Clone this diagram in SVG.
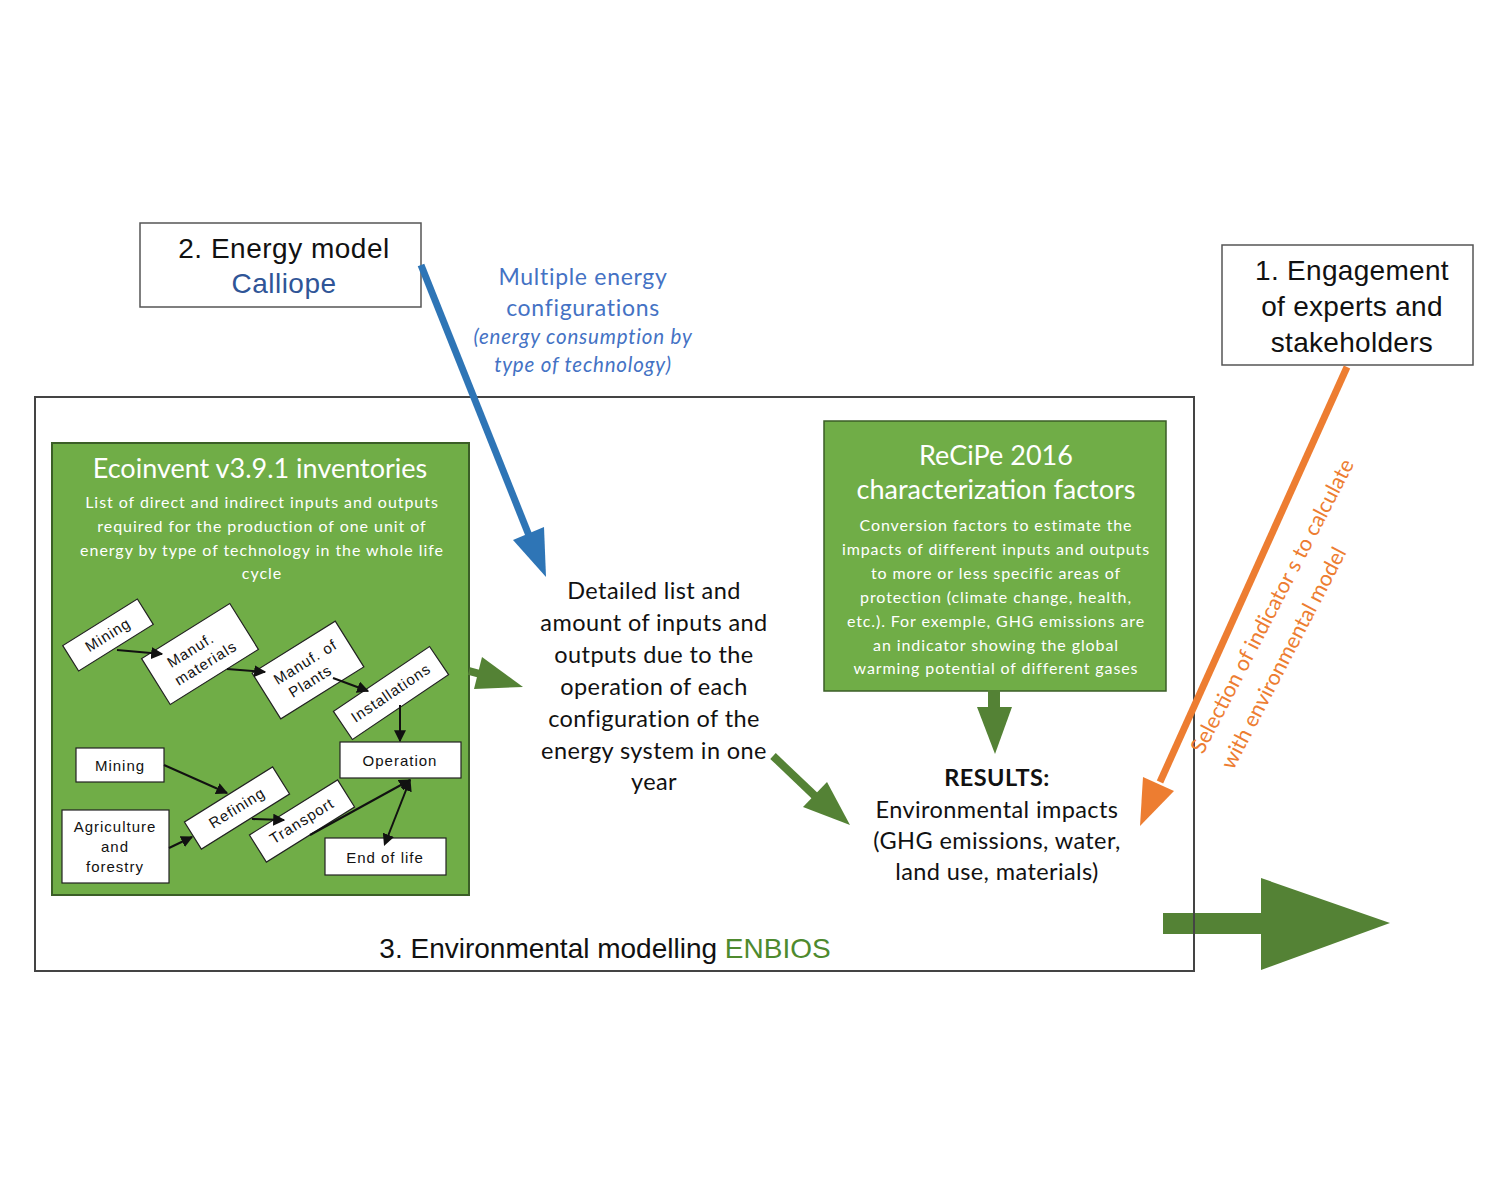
<svg xmlns="http://www.w3.org/2000/svg" width="1500" height="1200" viewBox="0 0 1500 1200">
<style>
.box{fill:#fff;stroke:#555;stroke-width:1.5}
.frame{fill:none;stroke:#444;stroke-width:2}
.gbox{fill:#70AD47;stroke:#3b5e27;stroke-width:2}
.wbox{fill:#fff;stroke:#222;stroke-width:1.2}
.sans{font-family:"Liberation Sans",Arial,sans-serif}
.cal{font-family:Lato,"Open Sans",sans-serif}
.big{font-size:28px;fill:#111}
.wt{fill:#fff}
.fc{font-family:"Liberation Sans",Arial,sans-serif;font-size:15px;fill:#111;letter-spacing:1px}
.mid{font-family:Lato,"Open Sans",sans-serif;font-size:23.5px;fill:#111;letter-spacing:0.4px}
.conn{stroke:#111;stroke-width:2;fill:none}
</style>
<defs>
<marker id="ah" viewBox="0 0 10 10" refX="9" refY="5" markerWidth="12" markerHeight="12" markerUnits="userSpaceOnUse" orient="auto">
<path d="M0,0 L10,5 L0,10 z" fill="#111"/>
</marker>
<marker id="ahs" viewBox="0 0 10 10" refX="1" refY="5" markerWidth="12" markerHeight="12" markerUnits="userSpaceOnUse" orient="auto-start-reverse">
<path d="M0,0 L10,5 L0,10 z" fill="#111"/>
</marker>
</defs>
<rect width="1500" height="1200" fill="#fff"/>

<g id="output-arrow">
<rect x="1163" y="913" width="100" height="21" fill="#548235"/>
<polygon points="1261,878 1261,970 1390,923" fill="#548235"/>
</g>

<g id="environmental-modelling">
<rect class="frame" x="35" y="397" width="1159" height="574"/>
<text class="sans big" x="605" y="958" text-anchor="middle" font-size="28.5">3. Environmental modelling <tspan fill="#4E8A2E">ENBIOS</tspan></text>
</g>

<g id="energy-model">
<rect class="box" x="140" y="223" width="281" height="84"/>
<text class="sans big" x="284" y="258" text-anchor="middle" letter-spacing="0.5">2. Energy model</text>
<text class="sans big" x="284" y="293" text-anchor="middle" style="fill:#2F5597" letter-spacing="0.5">Calliope</text>
</g>

<g id="engagement">
<rect class="box" x="1222" y="245" width="251" height="120"/>
<text class="sans big" x="1352" y="280" text-anchor="middle" letter-spacing="0.3">1. Engagement</text>
<text class="sans big" x="1352" y="316" text-anchor="middle" letter-spacing="0.3">of experts and</text>
<text class="sans big" x="1352" y="352" text-anchor="middle" letter-spacing="0.3">stakeholders</text>
</g>

<g id="ecoinvent">
<rect class="gbox" x="52" y="443" width="417" height="452"/>
<text class="cal wt" x="260" y="478" text-anchor="middle" font-size="27">Ecoinvent v3.9.1 inventories</text>
<g class="cal wt" font-size="16" text-anchor="middle" letter-spacing="0.95">
<text x="262" y="508">List of direct and indirect inputs and outputs</text>
<text x="262" y="532">required for the production of one unit of</text>
<text x="262" y="556">energy by type of technology in the whole life</text>
<text x="262" y="579">cycle</text>
</g>
</g>

<g id="mining-1" transform="translate(108,635) rotate(-32)">
<rect class="wbox" x="-44" y="-15" width="88" height="30"/>
<text class="fc" x="0" y="5" text-anchor="middle">Mining</text>
</g>
<g id="manuf-materials" transform="translate(200,654) rotate(-32)">
<rect class="wbox" x="-52" y="-27" width="104" height="54"/>
<text class="fc" x="-6" y="-3" text-anchor="middle">Manuf.</text>
<text class="fc" x="0" y="16" text-anchor="middle">materials</text>
</g>
<g id="manuf-plants" transform="translate(308,670) rotate(-32)">
<rect class="wbox" x="-49" y="-27" width="98" height="54"/>
<text class="fc" x="2" y="-3" text-anchor="middle">Manuf. of</text>
<text class="fc" x="-4" y="16" text-anchor="middle">Plants</text>
</g>
<g id="installations" transform="translate(391,693) rotate(-34)">
<rect class="wbox" x="-58" y="-17" width="116" height="34"/>
<text class="fc" x="0" y="5" text-anchor="middle">Installations</text>
</g>
<g id="operation">
<rect class="wbox" x="340" y="742" width="121" height="36"/>
<text class="fc" x="400" y="766" text-anchor="middle" font-size="18" letter-spacing="1.6">Operation</text>
</g>
<g id="mining-2">
<rect class="wbox" x="76" y="748" width="88" height="34"/>
<text class="fc" x="120" y="771" text-anchor="middle">Mining</text>
</g>
<g id="agriculture">
<rect class="wbox" x="62" y="810" width="107" height="73"/>
<text class="fc" x="115" y="832" text-anchor="middle" font-size="13.5" letter-spacing="0.8">Agriculture</text>
<text class="fc" x="115" y="852" text-anchor="middle" font-size="13.5" letter-spacing="0.8">and</text>
<text class="fc" x="115" y="872" text-anchor="middle" font-size="13.5" letter-spacing="0.8">forestry</text>
</g>
<g id="refining" transform="translate(237,808) rotate(-32)">
<rect class="wbox" x="-52" y="-16" width="104" height="32"/>
<text class="fc" x="0" y="5" text-anchor="middle">Refining</text>
</g>
<g id="transport" transform="translate(302,821) rotate(-32)">
<rect class="wbox" x="-52" y="-16" width="104" height="32"/>
<text class="fc" x="0" y="5" text-anchor="middle">Transport</text>
</g>
<g id="end-of-life">
<rect class="wbox" x="325" y="838" width="121" height="37"/>
<text class="fc" x="385" y="863" text-anchor="middle" font-size="18" letter-spacing="1.6">End of life</text>
</g>

<g id="recipe">
<rect class="gbox" x="824" y="421" width="342" height="270" style="stroke-width:1.5"/>
<text class="cal wt" x="996" y="465" text-anchor="middle" font-size="27">ReCiPe 2016</text>
<text class="cal wt" x="996" y="499" text-anchor="middle" font-size="27">characterization factors</text>
<g class="cal wt" font-size="16" text-anchor="middle" letter-spacing="0.9">
<text x="996" y="531">Conversion factors to estimate the</text>
<text x="996" y="555">impacts of different inputs and outputs</text>
<text x="996" y="579">to more or less specific areas of</text>
<text x="996" y="603">protection (climate change, health,</text>
<text x="996" y="627">etc.). For exemple, GHG emissions are</text>
<text x="996" y="651">an indicator showing the global</text>
<text x="996" y="674">warming potential of different gases</text>
</g>
</g>

<g id="inventory-output">
<text class="mid" x="654" y="599" text-anchor="middle">Detailed list and</text>
<text class="mid" x="654" y="631" text-anchor="middle">amount of inputs and</text>
<text class="mid" x="654" y="663" text-anchor="middle">outputs due to the</text>
<text class="mid" x="654" y="695" text-anchor="middle">operation of each</text>
<text class="mid" x="654" y="727" text-anchor="middle">configuration of the</text>
<text class="mid" x="654" y="759" text-anchor="middle">energy system in one</text>
<text class="mid" x="654" y="790" text-anchor="middle">year</text>
</g>

<g id="results">
<text class="mid" x="997" y="786" text-anchor="middle" style="font-weight:bold">RESULTS:</text>
<text class="mid" x="997" y="818" text-anchor="middle">Environmental impacts</text>
<text class="mid" x="997" y="849" text-anchor="middle">(GHG emissions, water,</text>
<text class="mid" x="997" y="880" text-anchor="middle">land use, materials)</text>
</g>

<g id="connectors">
<line class="conn" x1="117" y1="650" x2="162" y2="654" marker-end="url(#ah)"/>
<line class="conn" x1="227" y1="669" x2="265" y2="672" marker-end="url(#ah)"/>
<line class="conn" x1="333" y1="678" x2="368" y2="691" marker-end="url(#ah)"/>
<line class="conn" x1="400" y1="705" x2="400" y2="741" marker-end="url(#ah)"/>
<line class="conn" x1="164" y1="765" x2="227" y2="793" marker-end="url(#ah)"/>
<line class="conn" x1="169" y1="848" x2="192" y2="837" marker-end="url(#ah)"/>
<line class="conn" x1="252" y1="819" x2="284" y2="820" marker-end="url(#ah)"/>
<line class="conn" x1="310" y1="835" x2="410" y2="780" marker-end="url(#ah)"/>
<line class="conn" x1="388" y1="836" x2="410" y2="780" marker-start="url(#ahs)" marker-end="url(#ah)"/>

<line x1="421" y1="265" x2="530" y2="538" stroke="#2E75B6" stroke-width="7"/>
<polygon points="513,540 544,527 546,577" fill="#2E75B6"/>
<line x1="1347" y1="367" x2="1160" y2="782" stroke="#ED7D31" stroke-width="7"/>
<polygon points="1174,791 1143,777 1140,826" fill="#ED7D31"/>
<line x1="469" y1="671" x2="480" y2="674" stroke="#548235" stroke-width="8"/>
<polygon points="482,657 523,687 474,689" fill="#548235"/>
<line x1="773" y1="756" x2="815" y2="796" stroke="#548235" stroke-width="8"/>
<polygon points="827,782 850,825 803,807" fill="#548235"/>
<rect x="988" y="690" width="12" height="18" fill="#548235"/>
<polygon points="977,707 1012,707 995,754" fill="#548235"/>
</g>

<g id="labels">
<g class="cal" fill="#4472C4" text-anchor="middle">
<text x="583" y="285" font-size="23" letter-spacing="0.7">Multiple energy</text>
<text x="583" y="316" font-size="23" letter-spacing="0.7">configurations</text>
<text x="583" y="344" font-size="20.5" font-style="italic" letter-spacing="0.8">(energy consumption by</text>
<text x="583" y="372" font-size="20.5" font-style="italic" letter-spacing="0.8">type of technology)</text>
</g>
<g class="cal" fill="#ED7D31" font-size="21.5" transform="translate(1203,755) rotate(-62.5)">
<text x="0" y="0">Selection of indicator s to calculate</text>
<text x="0" y="34">with environmental model</text>
</g>
</g>
</svg>
